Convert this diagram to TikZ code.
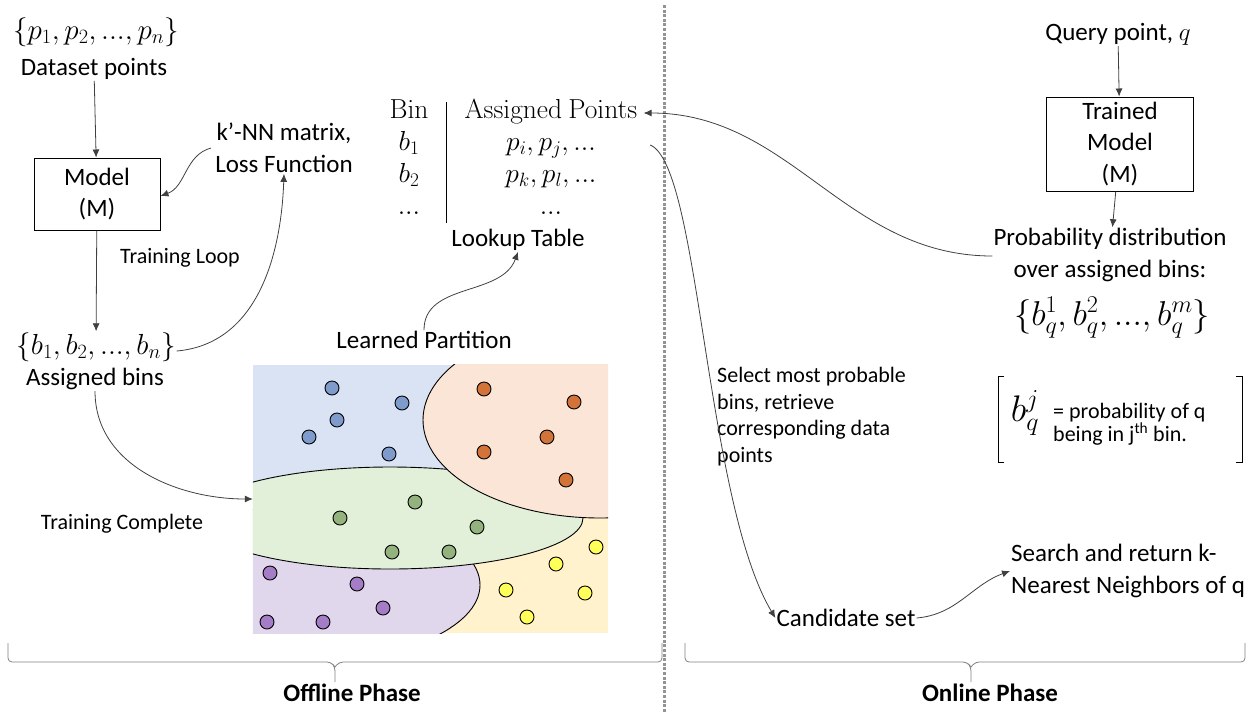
\documentclass[tikz,border=0pt]{standalone}
\usepackage{fix-cm}
\usepackage{amsmath}
\usepackage{amssymb}
\usepackage[no-math]{fontspec}
\setmainfont{Carlito}
\usetikzlibrary{arrows.meta}
\definecolor{regblue}{HTML}{DAE3F3}
\definecolor{regorange}{HTML}{FBE5D6}
\definecolor{reggreen}{HTML}{E2F0D9}
\definecolor{regpurple}{HTML}{E0D7EC}
\definecolor{regyellow}{HTML}{FFF2CC}
\definecolor{dotblue}{HTML}{7F9BCB}
\definecolor{dotorange}{HTML}{D2733A}
\definecolor{dotgreen}{HTML}{93B27E}
\definecolor{dotpurple}{HTML}{A47DC6}
\definecolor{dotyellow}{HTML}{FFFF5A}
\definecolor{linegray}{HTML}{404040}
\tikzset{node distance=32pt,auto,
  txt/.style={font=\fontsize{25}{31.5}\selectfont,align=center,inner sep=1pt},
  sml/.style={font=\fontsize{22}{26.7}\selectfont,align=left,inner sep=1pt},
  tny/.style={font=\fontsize{22}{22.5}\selectfont,align=left,inner sep=1pt},
  mth/.style={font=\fontsize{29}{34}\selectfont,inner sep=1pt},
  cell/.style={font=\fontsize{27.5}{32}\selectfont,inner sep=0pt,text height=15pt,text depth=5pt},
  box/.style={draw,line width=1pt,txt,inner sep=0pt},
  arr/.style={draw=linegray,line width=0.8pt,-{Latex[length=8pt,width=7pt]}},
  dot/.style={draw,line width=0.9pt,circle,minimum size=14pt,inner sep=0pt},
  region/.style={draw,line width=0.9pt},
  phase/.style={draw=gray,line width=0.8pt,rounded corners=4pt}}

\begin{document}
\begin{tikzpicture}[x=1pt,y=-1pt]
\useasboundingbox (0,0) rectangle (1255,713);

\node (P) [mth] at (96,32) {$\{p_1,p_2,...,p_n\}$};
\node (DS) [txt] at (94,69) {Dataset points};
\node (M) [box,minimum width=126pt,minimum height=72pt] at (97,194) {Model\\(M)};
\node (KNN) [txt] at (284,148) {k’-NN matrix,\\Loss Function};
\node (TL) [sml] at (180,258) {Training Loop};
\node (B) [mth] at (96,347) {$\{b_1,b_2,...,b_n\}$};
\node (AB) [txt] at (95,379) {Assigned bins};
\node (TC) [sml] at (122,524) {Training Complete};
\node (LPT) [txt] at (424,340) {Learned Partition};
\node (LP) [minimum width=355pt,minimum height=268pt,inner sep=0pt] at (430.5,499) {};

\node (BIN) [cell] at (409,113) {$\mathrm{Bin}$};
\node (b1) [cell,below of=BIN] {$b_1$};
\node (b2) [cell,below of=b1] {$b_2$};
\node (bd) [cell,below of=b2] {$...$};
\node (PTS) [cell] at (551,113) {$\mathrm{Assigned\ Points}$};
\node (pij) [cell,below of=PTS] {$p_i,p_j,...$};
\node (pkl) [cell,below of=pij] {$p_k,p_l,...$};
\node (pd) [cell,below of=pkl] {$...$};
\node (LUT) [txt] at (518,240) {Lookup Table};

\node (Q) [txt] at (1118,34) {Query point, $q$};
\node (TM) [box,minimum width=147pt,minimum height=94pt] at (1120,144) {Trained\\Model\\(M)};
\node (PD) [txt] at (1110,255) {Probability distribution\\over assigned bins:};
\node (BQ) [font=\fontsize{34.5}{38}\selectfont,inner sep=1pt] at (1112,318) {$\{b_q^1,b_q^2,...,b_q^m\}$};
\node (bqj) [font=\fontsize{37}{40}\selectfont,inner sep=1pt] at (1025,413) {$b_q^j$};
\node (PR) [tny,anchor=west] at (1052,424) {= probability of q\\being in j\textsuperscript{th} bin.};
\node (SEL) [sml,anchor=north west] at (716,366) {Select most probable\\bins, retrieve\\corresponding data\\points};
\node (CS) [txt] at (846,618) {Candidate set};
\node (SR) [txt,align=left,anchor=west] at (1010,571) {Search and return k-\\Nearest Neighbors of q};
\node (OFF) [font=\fontsize{25}{30}\selectfont\bfseries] at (352,693) {Offline Phase};
\node (ON) [font=\fontsize{25}{30}\selectfont\bfseries] at (990,693) {Online Phase};

\begin{scope}
\clip (LP.north west) rectangle (LP.south east);
\fill[regblue] (LP.north west) rectangle (608,516);
\fill[regyellow] (253,516) rectangle (LP.south east);
\filldraw[region,fill=regpurple] (300,585) ellipse (180 and 78);
\filldraw[region,fill=reggreen] (390,518) ellipse (193 and 51);
\filldraw[region,fill=regorange] (600,420) ellipse (177 and 98);
\end{scope}
\foreach \x/\y in {332/388,402/403,337/420,309/437,389/454}
  \node[dot,fill=dotblue] at (\x,\y) {};
\foreach \x/\y in {484/389,574/402,547/437,484/452,566/480}
  \node[dot,fill=dotorange] at (\x,\y) {};
\foreach \x/\y in {415/502,340/518,477/527,392/552,449/552}
  \node[dot,fill=dotgreen] at (\x,\y) {};
\foreach \x/\y in {270/573,357/584,383/608,267/622,323/622}
  \node[dot,fill=dotpurple] at (\x,\y) {};
\foreach \x/\y in {596/547,556/564,506/590,585/593,527/617}
  \node[dot,fill=dotyellow] at (\x,\y) {};

\draw[line width=0.9pt] (446,102) -- (446,223);
\draw[line width=1pt] (1004,376) -- (998,376) -- (998,462) -- (1004,462);
\draw[line width=1pt] (1236,376) -- (1242,376) -- (1242,462) -- (1236,462);
\draw[gray!85,line width=3pt,dash pattern=on 3pt off 1.6pt] (664,5) -- (664,713);

\draw[arr] (DS) -- (M);
\draw[arr] ([xshift=-3pt]KNN.west) to[out=195,in=20] ([yshift=-2pt]M.east);
\draw[arr] (M) -- (B);
\draw[arr] ([yshift=-4pt]B.east) to[out=5,in=268] (KNN.south);
\draw[arr] (AB.south) to[out=270,in=180] (LP.west);
\draw[arr] (LPT.north) to[out=90,in=250] (LUT.south);
\draw[arr] (Q) -- (TM);
\draw[arr] (TM) -- (PD);
\draw[arr] ([yshift=-1pt]PD.west) to[out=180,in=0] ([xshift=6pt]PTS.east);
\draw[arr] ([xshift=54pt]pij.east) .. controls (700,165) and (705,500) .. (CS.west);
\draw[arr] (CS.east) to[out=5,in=200] (SR.west);

\draw[phase] (8,643) -- (8,662) -- (331,662) -- (335,667) -- (335,682);
\draw[phase] (335,667) -- (339,662) -- (662,662) -- (662,643);
\draw[phase] (685,643) -- (685,662) -- (967,662) -- (971,667) -- (971,682);
\draw[phase] (971,667) -- (975,662) -- (1245,662) -- (1245,643);
\end{tikzpicture}
\end{document}
